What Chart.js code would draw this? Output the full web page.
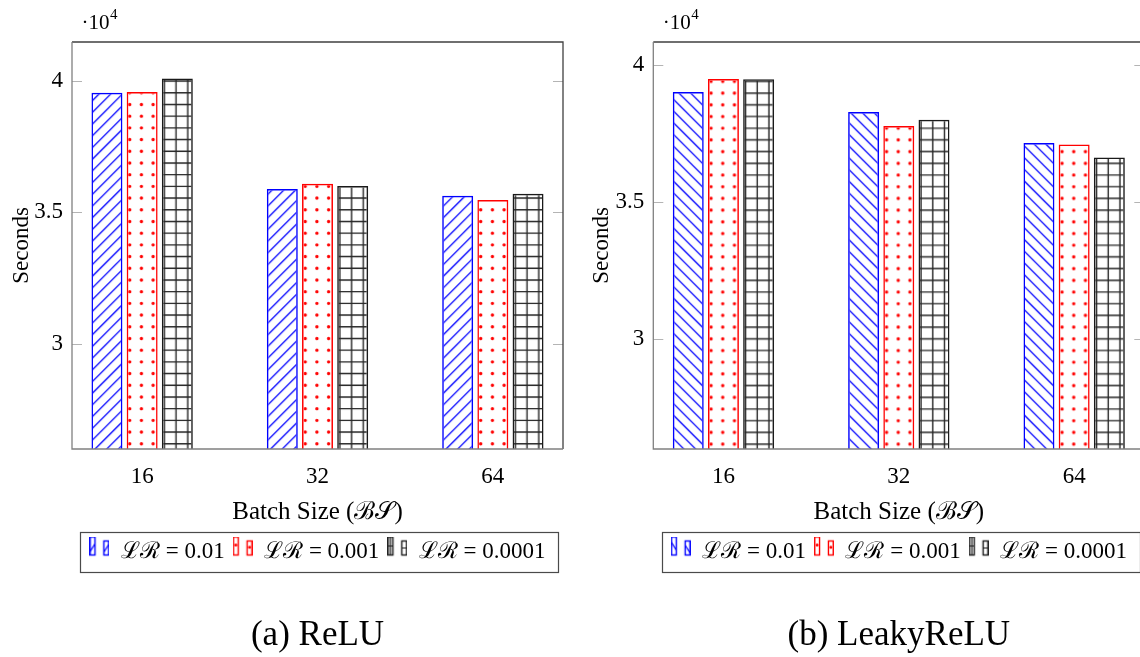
<!DOCTYPE html>
<html>
<head>
<meta charset="utf-8">
<script src="https://cdn.jsdelivr.net/npm/chart.js@4.4.1/dist/chart.umd.min.js"></script>
<style>
  html, body { margin: 0; padding: 0; background: #fff; width: 1140px; height: 657px; overflow: hidden; }
  canvas { position: absolute; top: 0; }
  #relu  { left: 0; }
  #leaky { left: 580px; }
</style>
</head>
<body>
<canvas id="relu" width="580" height="657"></canvas>
<canvas id="leaky" width="581" height="657"></canvas>
<script>
// data (seconds)
const batchSizes = ['16', '32', '64'];
const lrLabels   = ['ℒℛ = 0.01', 'ℒℛ = 0.001', 'ℒℛ = 0.0001'];

const reluLr1    = [39540, 35880, 35630];
const reluLr01   = [39570, 36080, 35460];
const reluLr001  = [40080, 36000, 35700];

const leakyLr1   = [39000, 38270, 37140];
const leakyLr01  = [39470, 37760, 37090];
const leakyLr001 = [39460, 37990, 36610];

const yTicks = [30000, 35000, 40000];
const Y_MIN = 26000;

const FONT = "'Liberation Serif', 'DejaVu Serif', serif";
const P = 11.7;               // hatch period in px

Chart.defaults.font.family = FONT;
Chart.defaults.color = '#000';

// pgfplots-like fill patterns, drawn on a 10-period tile
function makeTile(kind, color) {
  const n = P * 10;
  const c = document.createElement('canvas');
  c.width = c.height = n;
  const g = c.getContext('2d');
  g.strokeStyle = g.fillStyle = color;
  g.lineWidth = kind === 'grid' ? 1.4 : 1.3;
  g.beginPath();
  if (kind === 'ne') {
    for (let k = -1; k <= 21; k++) {
      const c0 = k * P + P / 2;
      g.moveTo(-2, c0 + 2); g.lineTo(n + 2, c0 - n - 2);
    }
    g.stroke();
  } else if (kind === 'nw') {
    for (let k = -11; k <= 11; k++) {
      const c0 = k * P + P / 2;
      g.moveTo(-2, c0 - 2); g.lineTo(n + 2, c0 + n + 2);
    }
    g.stroke();
  } else if (kind === 'grid') {
    for (let k = 0; k < 10; k++) {
      const p = k * P + P / 2;
      g.moveTo(p, 0); g.lineTo(p, n);
      g.moveTo(0, p); g.lineTo(n, p);
    }
    g.stroke();
  } else {
    for (let i = 0; i < 10; i++) for (let j = 0; j < 10; j++) {
      g.moveTo(i * P + P / 2 + 1.7, j * P + P / 2);
      g.arc(i * P + P / 2, j * P + P / 2, 1.7, 0, Math.PI * 2);
    }
    g.fill();
  }
  return c;
}

function makePattern(ctx, kind, color, phase) {
  const pat = ctx.createPattern(makeTile(kind, color), 'repeat');
  pat.setTransform(new DOMMatrix([1, 0, 0, 1, phase[0] - P / 2, phase[1] - P / 2]));
  return pat;
}

// two little bars, like the ybar legend image
function makeSwatch(kind, color) {
  const c = document.createElement('canvas');
  c.width = 20; c.height = 30;
  const g = c.getContext('2d');
  [[0.75, 0.5, 4.8, 18], [14.45, 4.5, 4.8, 14]].forEach(([x, y, w, h], idx) => {
    g.save();
    g.beginPath(); g.rect(x, y, w, h); g.clip();
    g.strokeStyle = g.fillStyle = color;
    g.lineWidth = 1.2;
    g.beginPath();
    if (kind === 'ne') { g.moveTo(x, y + h * 0.8); g.lineTo(x + w, y + h * 0.8 - w * 1.6); }
    else if (kind === 'nw') { g.moveTo(x, y + h * 0.3); g.lineTo(x + w, y + h * 0.3 + w * 1.6); }
    else if (kind === 'grid') {
      g.moveTo(x, y + h / 2); g.lineTo(x + w, y + h / 2);
      if (idx === 0) { g.moveTo(x + w / 2, y); g.lineTo(x + w / 2, y + h); }
    }
    if (kind === 'dots') g.arc(x + w / 2, y + h * 0.45, 1.5, 0, Math.PI * 2), g.fill();
    else g.stroke();
    g.restore();
    g.strokeStyle = color; g.lineWidth = 1.4;
    g.strokeRect(x, y, w, h);
  });
  return c;
}

const framePlugin = {
  id: 'pgfFrame',
  afterDatasetsDraw(chart) {
    const { ctx, chartArea: a, scales: { y } } = chart;
    ctx.save();
    ctx.lineWidth = 1;
    ctx.strokeStyle = '#b4b4b4';
    ctx.beginPath();
    y.ticks.forEach(t => {
      const py = Math.round(y.getPixelForValue(t.value)) + 0.5;
      ctx.moveTo(a.left, py); ctx.lineTo(a.left + 10, py);
      ctx.moveTo(a.right - 10, py); ctx.lineTo(a.right, py);
    });
    ctx.stroke();
    ctx.lineWidth = 1.3;
    ctx.strokeStyle = '#404040';
    ctx.beginPath();
    ctx.moveTo(a.left, a.top); ctx.lineTo(a.right, a.top); ctx.lineTo(a.right, a.bottom);
    ctx.stroke();
    ctx.strokeStyle = '#808080';
    ctx.beginPath();
    ctx.moveTo(a.left, a.top); ctx.lineTo(a.left, a.bottom); ctx.lineTo(a.right, a.bottom);
    ctx.stroke();
    ctx.restore();
  },
  afterDraw(chart) {
    const { ctx, chartArea: a, legend } = chart;
    ctx.save();
    // the ·10^4 scale label
    ctx.fillStyle = '#000';
    ctx.textBaseline = 'alphabetic';
    ctx.font = `21px ${FONT}`;
    const x0 = a.left + 9.5;
    ctx.fillText('·10', x0, 29.3);
    const w = ctx.measureText('·10').width;
    ctx.font = `15px ${FONT}`;
    ctx.fillText('4', x0 + w + 0.5, 19.3);
    // box round the legend
    const hb = legend.legendHitBoxes;
    if (hb.length) {
      const l = Math.min(...hb.map(h => h.left)) - 9;
      const r = Math.max(...hb.map(h => h.left + h.width)) + 13;
      const cy = hb[0].top + hb[0].height / 2;
      ctx.strokeStyle = '#4a4a4a';
      ctx.lineWidth = 1.2;
      ctx.strokeRect(Math.round(l) + 0.5, Math.round(cy - 20) + 0.5, Math.round(r - l), 40);
    }
    ctx.restore();
  }
};

function lrChart(canvasId, caption, hatch, series, yMax, yWidth, padRight, phases) {
  const ctx = document.getElementById(canvasId).getContext('2d');
  const kinds   = [hatch, 'dots', 'grid'];
  const colors  = ['#0000ff', '#ff0000', '#262626'];
  const borders = ['#0000ff', '#ff0000', '#1a1a1a'];
  const fills   = kinds.map((k, i) => makePattern(ctx, k, colors[i], phases[i]));
  const swatches = kinds.map((k, i) => makeSwatch(k, borders[i]));

  return new Chart(ctx, {
    type: 'bar',
    data: {
      datasets: series.map((vals, i) => ({
        label: lrLabels[i],
        data: vals.map((v, j) => ({ x: j, y: v })),
        backgroundColor: fills[i],
        borderColor: borders[i],
        borderWidth: 1.5,
        borderSkipped: 'start',
        base: Y_MIN,
        categoryPercentage: 0.602,
        barPercentage: 0.88
      }))
    },
    options: {
      responsive: false,
      animation: false,
      layout: { padding: { top: 42, right: padRight, bottom: 0, left: 0 } },
      plugins: {
        tooltip: { enabled: false },
        legend: {
          position: 'bottom',
          fullSize: false,
          labels: {
            usePointStyle: true,
            pointStyleWidth: 20,
            padding: 8,
            color: '#000',
            font: { size: 23, family: FONT },
            generateLabels: chart => chart.data.datasets.map((ds, i) => ({
              text: ds.label, pointStyle: swatches[i], datasetIndex: i,
              fillStyle: 'transparent', strokeStyle: 'transparent', lineWidth: 0,
              hidden: false, fontColor: '#000'
            }))
          }
        },
        title: {
          display: true,
          position: 'bottom',
          fullSize: false,
          text: caption,
          color: '#000',
          font: { size: 35, family: FONT, weight: 'normal' },
          padding: { top: 42, bottom: 0 }
        }
      },
      scales: {
        x: {
          type: 'linear',
          min: -0.4,
          max: 2.4,
          offset: false,
          grid: { display: false, drawTicks: false },
          border: { display: false },
          afterBuildTicks: s => { s.ticks = batchSizes.map((_, i) => ({ value: i })); },
          afterFit: s => { s.height = 83; },
          ticks: { callback: v => batchSizes[v], padding: 14.2, maxRotation: 0, autoSkip: false,
                   color: '#000', font: { size: 23 } },
          title: { display: true, text: 'Batch Size (ℬ𝒮)', color: '#000', font: { size: 25 },
                   padding: { top: 0, bottom: 5 } }
        },
        y: {
          min: Y_MIN,
          max: yMax,
          beginAtZero: false,
          grid: { display: false, drawTicks: false },
          border: { display: false },
          afterBuildTicks: s => { s.ticks = yTicks.map(v => ({ value: v })); },
          afterFit: s => { s.width = yWidth; },
          ticks: { callback: v => String(v / 1e4), padding: 9, color: '#000', font: { size: 23 } },
          title: { display: true, text: 'Seconds', color: '#000', font: { size: 23 },
                   padding: { top: 7.9, bottom: 0 } }
        }
      }
    },
    plugins: [framePlugin]
  });
}

lrChart('relu', '(a) ReLU', 'ne', [reluLr1, reluLr01, reluLr001], 41470, 72, 17,
        [[0, 0], [1.0, 10.9], [0.5, 10.9]]);
lrChart('leaky', '(b) LeakyReLU', 'nw', [leakyLr1, leakyLr01, leakyLr001], 40820, 73.3, 16.7,
        [[0, 0], [2.3, 11.2], [1.7, 11.2]]);
</script>
</body>
</html>
